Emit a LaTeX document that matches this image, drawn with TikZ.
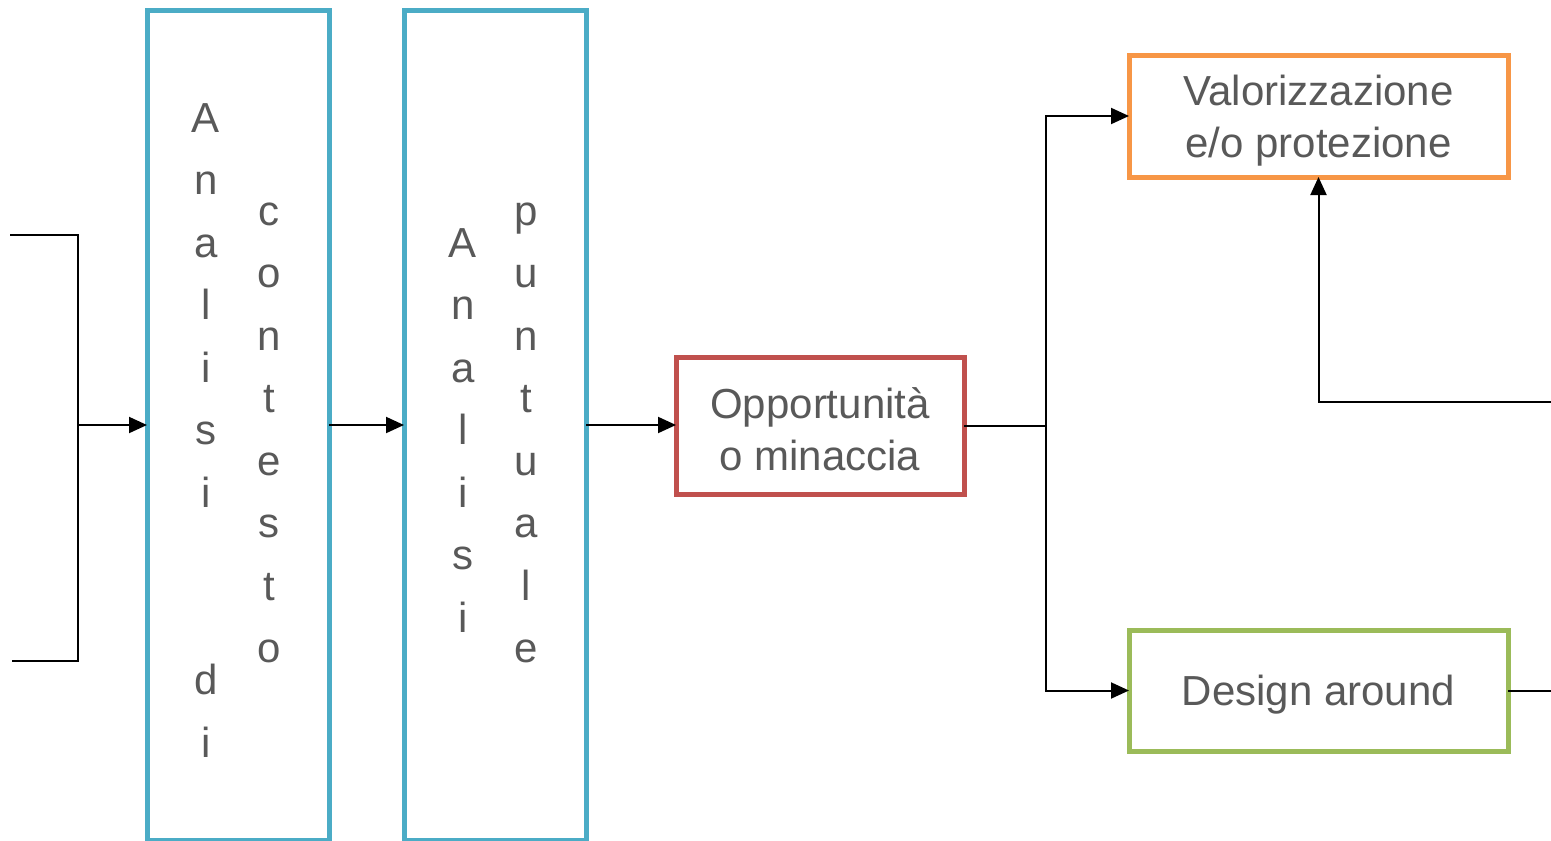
\documentclass[tikz,border=0pt]{standalone}
\usepackage{fontspec}
\setmainfont{Liberation Sans}
\usetikzlibrary{arrows.meta}
\definecolor{cblue}{HTML}{4BACC6}
\definecolor{cred}{HTML}{C0504D}
\definecolor{corange}{HTML}{F79646}
\definecolor{cgreen}{HTML}{9BBB59}
\definecolor{ctext}{HTML}{595959}
\begin{document}
\begin{tikzpicture}[x=1pt,y=-1pt,
  box/.style={draw, line width=5pt, rectangle, inner sep=0pt, outer sep=0pt},
  lbl/.style={text=ctext, font=\fontsize{42}{52}\selectfont, align=center, inner sep=0pt},
  letter/.style={text=ctext, font=\fontsize{42}{50}\selectfont, anchor=base, inner sep=0pt},
  conn/.style={line width=2pt, draw=black},
  arr/.style={conn, -{Triangle[length=18pt,width=16pt]}}]
\useasboundingbox (0,0) rectangle (1551,841);
\fill[white] (0,0) rectangle (1551,841);

% boxes
\node[box, draw=cblue, minimum width=182pt, minimum height=830pt] (b1) at (238,425) {};
\node[box, draw=cblue, minimum width=182pt, minimum height=830pt] (b2) at (495,425) {};
\node[box, draw=cred, minimum width=288pt, minimum height=137pt] (red) at (820,425.5) {};
\node[box, draw=corange, minimum width=379pt, minimum height=122pt] (orange) at (1318.5,116) {};
\node[box, draw=cgreen, minimum width=379pt, minimum height=121pt] (green) at (1318.5,690.5) {};
\node[lbl] (redt) at ([yshift=-4pt]red.center) {Opportunità\\o minaccia};
\node[lbl] (oranget) at ([yshift=-5pt]orange.center) {Valorizzazione\\e/o protezione};
\node[lbl] (greent) at ([yshift=-4pt]green.center) {Design around};

% vertical letters
\foreach \ch/\yy [count=\i] in {A/132,n/194.5,a/257,l/319.5,i/382,s/444.5,i/507,d/694.5,i/757}
  \node[letter] (la\i) at (206,\yy) {\ch};
\foreach \ch/\yy [count=\i] in {c/225,o/287.5,n/350,t/412.5,e/475,s/537.5,t/600,o/662.5}
  \node[letter] (lb\i) at (269,\yy) {\ch};
\foreach \ch/\yy [count=\i] in {A/257,n/319.5,a/382,l/444.5,i/507,s/569.5,i/632}
  \node[letter] (lc\i) at (463,\yy) {\ch};
\foreach \ch/\yy [count=\i] in {p/225,u/287.5,n/350,t/412.5,u/475,a/537.5,l/600,e/662.5}
  \node[letter] (ld\i) at (526,\yy) {\ch};

% connectors
\coordinate (inA) at (10,235);
\coordinate (inB) at (12,661);
\coordinate (j1) at (78,425);
\draw[conn] (inA) -| (j1);
\draw[conn] (inB) -| (j1);
\draw[arr] (j1) -- (b1.west);
\draw[arr] (b1.east) -- (b2.west);
\draw[arr] (b2.east) -- (red.west |- b2.east);
\coordinate (j2) at (1046,425.5);
\draw[conn] (red.east) -- (j2);
\draw[arr] (j2) |- (orange.west);
\draw[arr] (j2) |- (green.west);
\coordinate (inC) at (1551,402);
\draw[arr] (inC) -| (orange.south);
\coordinate (outD) at (1551,690.5);
\draw[conn] (green.east) -- (outD);
\end{tikzpicture}
\end{document}
